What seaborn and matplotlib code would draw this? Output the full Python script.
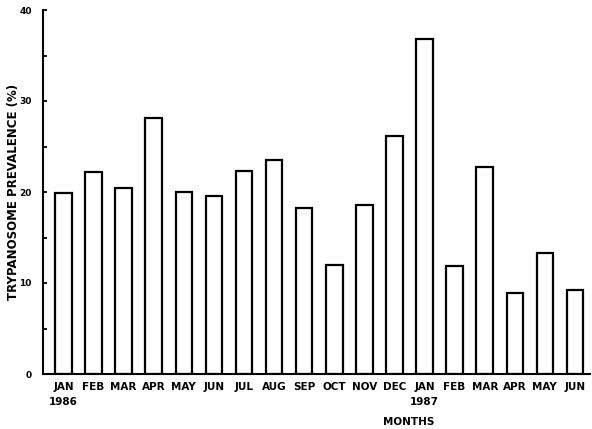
import matplotlib
matplotlib.use("Agg")
import matplotlib.pyplot as plt
import seaborn as sns
import pandas as pd
from matplotlib.ticker import MultipleLocator

# Data
keys = ["1986-01", "1986-02", "1986-03", "1986-04", "1986-05", "1986-06",
        "1986-07", "1986-08", "1986-09", "1986-10", "1986-11", "1986-12",
        "1987-01", "1987-02", "1987-03", "1987-04", "1987-05", "1987-06"]
months = ["JAN", "FEB", "MAR", "APR", "MAY", "JUN", "JUL", "AUG", "SEP",
          "OCT", "NOV", "DEC", "JAN", "FEB", "MAR", "APR", "MAY", "JUN"]
years = ["1986", "", "", "", "", "", "", "", "", "", "", "",
         "1987", "", "", "", "", ""]
prevalence = [19.9, 22.2, 20.4, 28.1, 20.0, 19.6, 22.3, 23.5, 18.2,
              12.0, 18.6, 26.2, 36.8, 11.9, 22.8, 8.9, 13.3, 9.2]
y_ticks = [0, 10, 20, 30, 40]

df = pd.DataFrame({"month": keys, "prevalence": prevalence})

sns.set_theme(style="white")
plt.rcParams["font.family"] = ["DejaVu Sans"]
plt.rcParams["font.weight"] = "bold"

fig = plt.figure(figsize=(5.92, 4.29), dpi=100)
ax = fig.add_axes([43 / 592, 1 - 374 / 429, 547 / 592, 364 / 429])

sns.barplot(data=df, x="month", y="prevalence", order=keys, color="white",
            edgecolor="black", linewidth=1.6, width=0.55, ax=ax)

ax.set_xlim(-0.68, 17.5)
ax.set_ylim(0, 40)
ax.set_yticks(y_ticks)
ax.set_yticklabels([str(t) for t in y_ticks])
ax.yaxis.set_minor_locator(MultipleLocator(5))
ax.tick_params(axis="y", which="both", direction="in", length=3, width=1.3,
               color="black", left=True, labelsize=6.5, pad=8, labelcolor="black")
ax.tick_params(axis="x", length=0, labelsize=7.5, pad=6, labelcolor="black")
ax.set_xticks(range(len(keys)))
ax.set_xticklabels(months, fontweight="bold")

for i, yr in enumerate(years):
    if yr:
        ax.annotate(yr, xy=(i, 0), xycoords=("data", "axes fraction"),
                    xytext=(0, -16.5), textcoords="offset points",
                    ha="center", va="top", fontsize=7.5, fontweight="bold",
                    color="black")

sns.despine(ax=ax, top=True, right=True)
for s in ["left", "bottom"]:
    ax.spines[s].set_linewidth(1.5)
    ax.spines[s].set_color("black")

ax.set_xlabel("MONTHS", fontsize=7.5, fontweight="bold", color="black")
ax.xaxis.set_label_coords(366 / 547, -43 / 364)
ax.set_ylabel("TRYPANOSOME PREVALENCE (%)", fontsize=8.5, fontweight="bold",
              color="black")
ax.yaxis.set_label_coords(-23 / 547, 0.5)

fig.savefig("out.png", dpi=100, facecolor="white")
